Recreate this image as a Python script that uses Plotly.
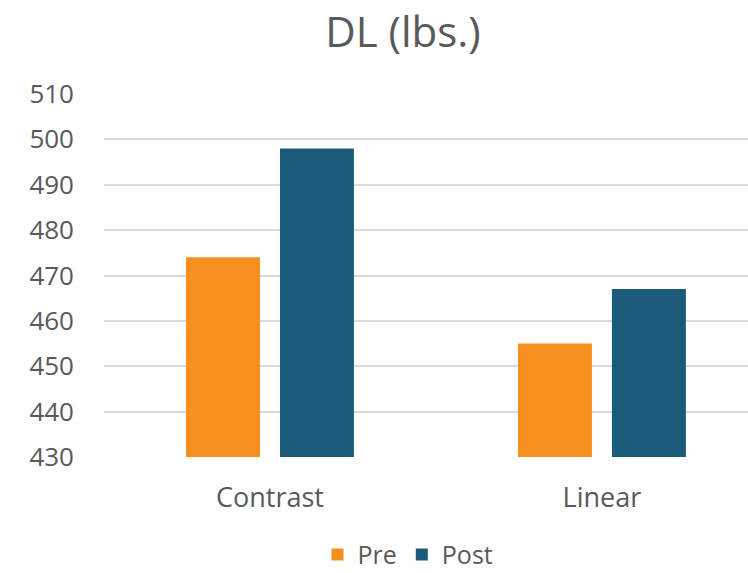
import plotly.graph_objects as go

# Deadlift (lbs.) before and after training, by program
categories = ["Contrast", "Linear"]
pre_values = [474, 455]
post_values = [498, 467]
y_ticks = [430, 440, 450, 460, 470, 480, 490, 500, 510]

ORANGE = "#F5901F"
BLUE = "#1A5B7A"
TEXT = "#595959"
GRID = "#D9D9D9"
FONT = "Open Sans"

fig = go.Figure()
fig.add_trace(go.Bar(name="Pre", x=categories, y=pre_values, marker_color=ORANGE,
                     marker_line_width=0))
fig.add_trace(go.Bar(name="Post", x=categories, y=post_values, marker_color=BLUE,
                     marker_line_width=0))

fig.update_layout(
    width=748, height=573,
    margin=dict(l=104, r=0, t=93.5, b=116, pad=0, autoexpand=False),
    paper_bgcolor="white", plot_bgcolor="white",
    font=dict(family=FONT, color=TEXT, size=26),
    title=dict(text="DL (lbs.)", font=dict(size=42, color=TEXT, family=FONT),
               xref="container", x=403 / 748, xanchor="center",
               yref="container", y=1 - 32 / 573, yanchor="middle"),
    barmode="group", bargap=0.434, bargroupgap=0.213,
    showlegend=True,
    legend=dict(orientation="h", xref="paper", x=(408 - 104) / 644, xanchor="center",
                yref="paper", y=-(555 - 457) / 363.5, yanchor="middle",
                font=dict(size=25, color=TEXT, family=FONT),
                itemwidth=30, traceorder="normal"),
)
fig.update_xaxes(type="category", range=[-0.5, 1.44], showgrid=False, showline=False,
                 zeroline=False, ticks="", tickfont=dict(size=27, color=TEXT),
                 ticklabelstandoff=22)
fig.update_yaxes(range=[430, 510], tickvals=y_ticks, showgrid=True, gridcolor=GRID,
                 gridwidth=1.5, zeroline=False, showline=False, ticks="",
                 tickfont=dict(size=26, color=TEXT), ticklabelstandoff=29)

fig.write_html("out.html")
